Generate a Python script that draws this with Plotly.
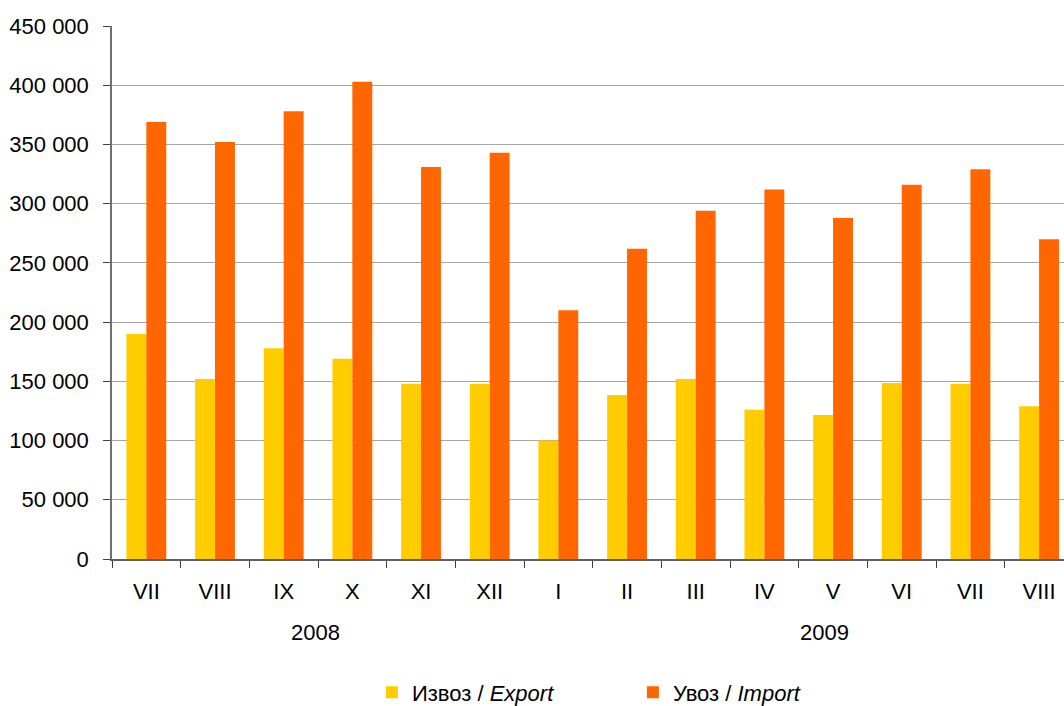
import plotly.graph_objects as go

months = ["VII", "VIII", "IX", "X", "XI", "XII", "I", "II", "III", "IV", "V", "VI", "VII", "VIII"]
years = ["2008"] * 6 + ["2009"] * 8
export_vals = [190000, 152000, 178000, 169000, 148000, 148000, 100000, 138500, 152000, 126000, 121500, 148500, 148000, 129000]
import_vals = [369000, 352000, 378000, 403000, 331000, 343000, 210000, 262000, 294000, 312000, 288000, 316000, 329000, 270000]
y_ticks = [0, 50000, 100000, 150000, 200000, 250000, 300000, 350000, 400000, 450000]

cats = [f"{y}-{m}" for y, m in zip(years, months)]

FONT = "Liberation Sans, Arial, sans-serif"
FS = 22

fig = go.Figure()
fig.add_trace(go.Bar(x=cats, y=export_vals, name="Извоз / <i>Export</i>",
                     marker=dict(color="#FFCC00", line=dict(width=0))))
fig.add_trace(go.Bar(x=cats, y=import_vals, name="Увоз / <i>Import</i>",
                     marker=dict(color="#FF6600", line=dict(width=0))))

# year group labels
year_pos = {"2008": 2.46, "2009": 9.88}
for yr, pos in year_pos.items():
    fig.add_annotation(x=pos, xref="x", y=-0.137, yref="paper", text=yr,
                       showarrow=False, yanchor="middle",
                       font=dict(size=FS, color="#000000", family=FONT))

fig.update_layout(
    width=1064, height=706,
    margin=dict(l=112, r=0, t=26, b=147, autoexpand=False),
    paper_bgcolor="white", plot_bgcolor="white",
    barmode="group", bargap=0.42, bargroupgap=0,
    separators=". ",
    font=dict(family=FONT, size=FS, color="#000000"),
    showlegend=True,
    legend=dict(orientation="h", x=0.273, xanchor="left", y=-0.211, yanchor="top",
                entrywidth=216, entrywidthmode="pixels",
                font=dict(size=FS, family=FONT, color="#000000"),
                itemsizing="constant", traceorder="normal"),
    xaxis=dict(type="category", range=[-0.5, 13.363], tickmode="array",
               tickvals=cats, ticktext=months, tickson="boundaries",
               ticks="outside", ticklen=7, tickcolor="#404040", tickwidth=1,
               showline=True, linecolor="#606060", linewidth=1.5,
               showgrid=False, ticklabelstandoff=12,
               tickfont=dict(size=FS, family=FONT, color="#000000")),
    yaxis=dict(range=[0, 450000], tickmode="array", tickvals=y_ticks,
               tickformat=",d", ticks="outside", ticklen=7, tickcolor="#404040",
               showline=True, linecolor="#707070", linewidth=1.5,
               showgrid=True, gridcolor="#a6a6a6", gridwidth=1,
               zeroline=False, ticklabelstandoff=10,
               tickfont=dict(size=FS, family=FONT, color="#000000")),
)

fig.write_html("out.html",
               config={"displayModeBar": False},
               post_script="document.body.style.margin='0';document.body.style.overflow='hidden';")
